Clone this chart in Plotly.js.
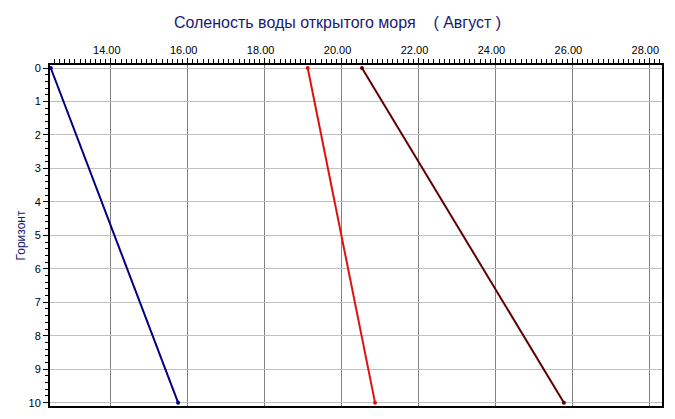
<!DOCTYPE html>
<html>
<head>
<meta charset="utf-8">
<script src="https://cdn.plot.ly/plotly-3.0.1.min.js"></script>
<style>html,body{margin:0;padding:0;background:#fff;}#chart{width:675px;height:419px;}</style>
</head>
<body>
<div id="chart"></div>
<script>
const horizons = [0, 10];
const salinityBlue = [12.44, 15.75];
const salinityRed = [19.12, 20.87];
const salinityBrown = [20.53, 25.78];
const seriesColors = ['#000080', '#e01010', '#600000'];
const xTickVals = [14, 16, 18, 20, 22, 24, 26, 28];
const xTickText = ['14.00', '16.00', '18.00', '20.00', '22.00', '24.00', '26.00', '28.00'];
const yTickVals = [0, 1, 2, 3, 4, 5, 6, 7, 8, 9, 10];

const seriesList = [salinityBlue, salinityRed, salinityBrown];
const traces = seriesList.map((s, i) => ({
  x: s, y: horizons, type: 'scatter', mode: 'lines+markers',
  line: {color: seriesColors[i], width: 2},
  marker: {color: seriesColors[i], size: 4},
  showlegend: false, hoverinfo: 'skip'
}));

const layout = {
  width: 675, height: 419,
  margin: {l: 50, r: 13, t: 65, b: 13},
  paper_bgcolor: '#fff', plot_bgcolor: '#fff',
  font: {family: 'Liberation Sans, Arial, sans-serif', size: 11, color: '#000'},
  title: {text: 'Соленость воды открытого моря&nbsp;&nbsp;&nbsp;&nbsp;( Август )',
          font: {size: 16, color: '#1a1a70', family: 'Liberation Sans, Arial, sans-serif'},
          x: 0.5, xanchor: 'center', y: 0.947, yanchor: 'middle'},
  xaxis: {
    side: 'top', range: [12.42, 28.33], tickvals: xTickVals, ticktext: xTickText,
    showgrid: true, gridcolor: '#808080', gridwidth: 1,
    showline: true, linecolor: '#000', linewidth: 2, mirror: true,
    ticks: 'outside', ticklen: 5, tickcolor: '#000', ticklabelshift: -4,
    minor: {dtick: 2/15, tick0: 14, ticks: 'outside', ticklen: 4, tickcolor: '#000', showgrid: false},
    zeroline: false, fixedrange: true
  },
  yaxis: {
    range: [10.1, -0.09], tickvals: yTickVals,
    title: {text: 'Горизонт', font: {size: 12, color: '#1a1a70'}, standoff: 0},
    showgrid: true, gridcolor: '#c0c0c0', gridwidth: 1,
    showline: true, linecolor: '#000', linewidth: 2, mirror: true,
    ticks: 'outside', ticklen: 5, tickcolor: '#000',
    minor: {dtick: 0.2, tick0: 0, ticks: 'outside', ticklen: 3, tickcolor: '#000', showgrid: false},
    zeroline: false, fixedrange: true
  }
};
Plotly.newPlot('chart', traces, layout, {displayModeBar: false, staticPlot: true}).then(() => {
  // no-op
});
</script>
</body>
</html>
